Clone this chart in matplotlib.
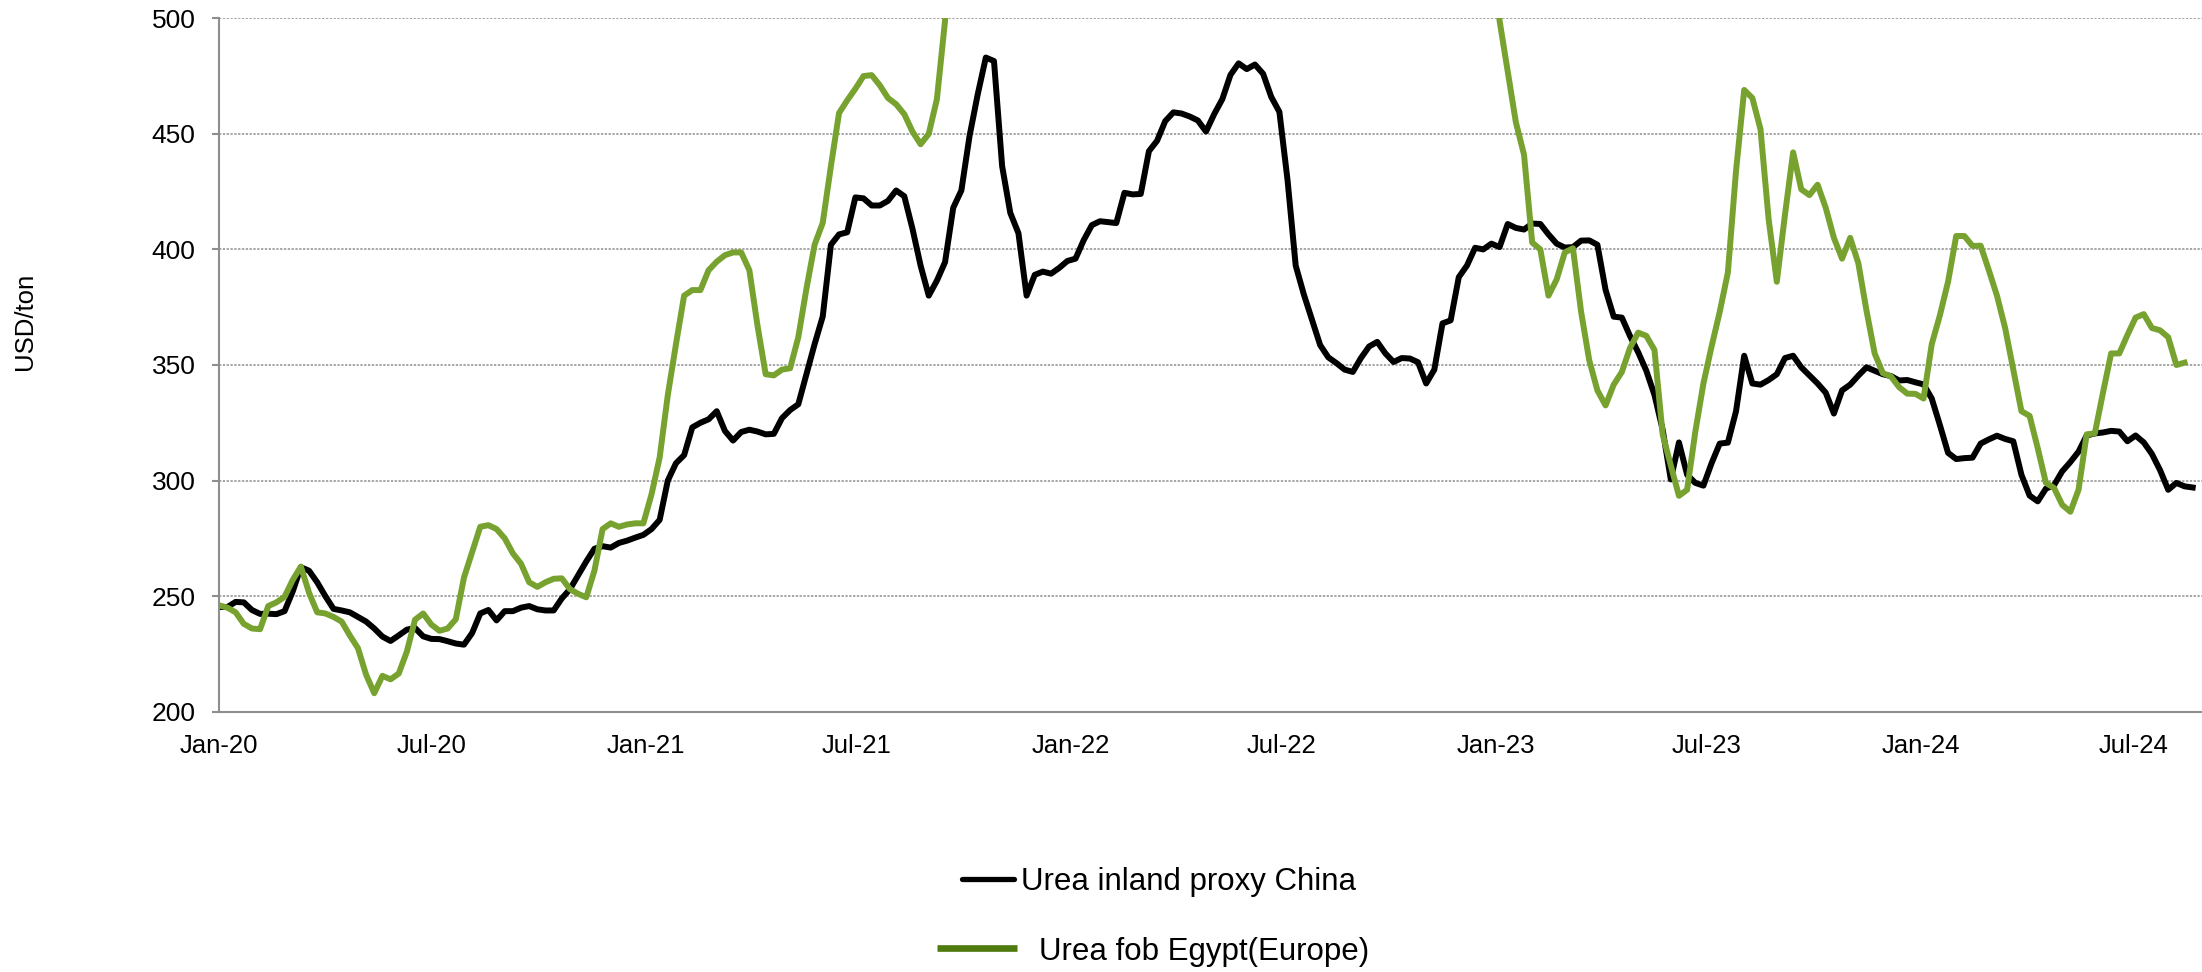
import matplotlib
matplotlib.use("Agg")
import matplotlib.pyplot as plt
import matplotlib.dates as mdates
from matplotlib.lines import Line2D
import pandas as pd

plt.rcParams["font.family"] = ["Liberation Sans", "DejaVu Sans"]

CHINA_LABEL = "Urea inland proxy China"
EGYPT_LABEL = "Urea fob Egypt(Europe)"

# Weekly prices in USD/ton, first week starting 2020-01-01
china_2020 = [245.3, 245.3, 247.5, 247.3, 244, 242.3, 242.4, 242.2, 243.5, 252,
              262.5, 261, 256, 250, 244.5, 243.8, 243, 241, 239, 236,
              232.5, 230.6, 233, 235.5, 236.2, 232.6, 231.5, 231.4, 230.5, 229.5,
              229, 234, 242.5, 244, 239.5, 243.5, 243.5, 245, 245.7, 244.3,
              243.8, 243.8, 249, 253, 259, 265, 270.5, 271.6, 271, 273,
              274, 275.3, 276.5]
china_2021 = [279, 283, 300, 307.5, 311, 323, 325, 326.5, 330, 321.5,
              317.3, 321, 322, 321.2, 320, 320.2, 327, 330.5, 333, 346,
              359, 371, 402, 406.5, 407.4, 422.5, 422.1, 419, 419, 421,
              425.5, 423, 409, 393, 380, 386.5, 394.5, 418, 425.5, 449,
              467, 483, 481.5, 436, 415.8, 407, 380, 389, 390.4, 389.5,
              392, 395]
china_2022 = [396, 404, 410.5, 412.2, 411.8, 411.4, 424.5, 423.8, 424, 442.5,
              447, 455.5, 459.3, 458.8, 457.5, 455.8, 451, 458.5, 465, 475.5,
              480.5, 478, 480, 476, 466, 459.5, 430, 393, 380.5, 369.6,
              358.6, 353.3, 350.8, 348, 347, 353, 358, 360, 355, 351.3,
              353, 352.8, 351.2, 342, 348, 368, 369.3, 388, 393, 400.7,
              400, 402.5]
china_2023 = [401, 411, 409.3, 408.6, 411.2, 411, 406.5, 402.5, 400.8, 401,
              403.8, 403.9, 402, 382.5, 370.9, 370.5, 362.5, 355.5, 347.5, 337,
              322, 300.5, 316.5, 302.5, 299, 297.8, 307.5, 316, 316.4, 330,
              354, 342, 341.5, 343.5, 346, 353, 354, 349, 345.5, 342,
              338, 329, 339, 341.5, 345.4, 349, 347.5, 346, 345.2, 343.3,
              343.5, 342.5]
china_2024 = [341.6, 335.5, 324, 312, 309.3, 309.7, 309.9, 316, 317.8, 319.4,
              318, 317, 302.5, 293.5, 291, 296.5, 298, 304, 308, 312.5,
              319.5, 320.4, 320.8, 321.5, 321.2, 317, 319.5, 316.5, 311.5, 304.5,
              296, 299, 297.5, 297]

# None marks weeks priced above the 500 USD/ton axis limit
egypt_2020 = [246, 245, 243, 238, 236, 235.7, 245.7, 247.3, 249.7, 257,
              262.8, 251.5, 243, 242.5, 241, 239, 233, 227.5, 216, 208,
              215.5, 214, 216.5, 226, 239.8, 242.5, 237.7, 235, 236, 240,
              258, 269, 280, 280.7, 279, 275, 268.5, 264, 256, 254,
              256, 257.5, 257.7, 253, 251, 249.5, 261, 279, 281.5, 280,
              281, 281.5, 281.5]
egypt_2021 = [294, 310, 337, 359, 380, 382.4, 382.4, 391, 394.7, 397.5,
              398.7, 398.7, 391, 367, 346, 345.5, 348, 348.6, 362, 383,
              402, 411.5, 436, 459, 464.5, 469.5, 475, 475.4, 471, 465.5,
              462.8, 458.5, 451, 445.5, 450, 465, 499, 620] + [None] * 14
egypt_2022 = [None] * 51 + [560]
egypt_2023 = [499, 477, 455, 441, 403, 400, 380, 387, 398.7, 400.5,
              373, 352, 339, 332.5, 341.5, 347, 357.4, 364, 362.6, 356.5,
              320, 306.5, 293.4, 296, 321, 342, 358, 373, 390, 434,
              469, 465.5, 452, 413, 386, 415, 442, 426, 423.5, 428,
              418, 405, 396, 405, 394, 373.5, 355, 346.5, 345, 340.4,
              337.6, 337.5]
egypt_2024 = [335.5, 359, 371.5, 386, 405.8, 405.8, 401.5, 401.6, 391, 380,
              366, 348, 330, 328, 314, 299, 296.8, 289.5, 286.5, 296,
              320, 320.4, 338, 355, 355, 363, 370.5, 372, 366, 365,
              362, 350, 351, None]

china = china_2020 + china_2021 + china_2022 + china_2023 + china_2024
egypt = egypt_2020 + egypt_2021 + egypt_2022 + egypt_2023 + egypt_2024

weeks = pd.date_range("2020-01-01", periods=len(china), freq="7D")
prices = pd.DataFrame({CHINA_LABEL: china, EGYPT_LABEL: egypt},
                      index=weeks, dtype=float)

GREEN = "#78A22F"
GREEN_DARK = "#4E7A0E"
GREY = "#8E8E8E"

fig = plt.figure(figsize=(22.02, 9.72), dpi=100)
ax = fig.add_axes([0.0996, 0.2678, 0.9004, 0.7134])

ax.plot(prices.index, prices[CHINA_LABEL], color="black", lw=4.3)
ax.plot(prices.index, prices[EGYPT_LABEL], color=GREEN, lw=4.3)

ax.set_ylim(200, 500)
ax.set_yticks(range(200, 501, 50))
ax.set_xlim(pd.Timestamp("2020-01-01"), pd.Timestamp("2024-08-29"))
ax.xaxis.set_major_locator(mdates.MonthLocator(bymonth=[1, 7]))
ax.xaxis.set_major_formatter(mdates.DateFormatter("%b-%y"))

ax.yaxis.grid(True, color=GREY, linestyle=(0, (1.5, 1)), linewidth=1.1)
for side in ("top", "right"):
    ax.spines[side].set_visible(False)
for side in ("left", "bottom"):
    ax.spines[side].set_color(GREY)
    ax.spines[side].set_linewidth(1.5)

ax.tick_params(axis="y", length=5, width=1.5, color=GREY, pad=12, labelsize=19)
ax.tick_params(axis="x", length=0, pad=16, labelsize=18.5)

fig.text(25 / 2202, 1 - 321 / 972, "USD/ton", rotation=90,
         ha="center", va="center", fontsize=18.5)

# legend entries stacked under the plot
fig.add_artist(Line2D([0.4369, 0.4605], [0.0957, 0.0957], color="black",
                      lw=3.8, solid_capstyle="round",
                      transform=fig.transFigure))
fig.text(0.4637, 0.0844, CHINA_LABEL, fontsize=22.5, va="baseline")
fig.add_artist(Line2D([0.4257, 0.4619], [0.0247, 0.0247], color=GREEN_DARK,
                      lw=4.8, solid_capstyle="butt",
                      transform=fig.transFigure))
fig.text(0.4718, 0.0123, EGYPT_LABEL, fontsize=22.5, va="baseline")

fig.savefig("out.png", dpi=100)
